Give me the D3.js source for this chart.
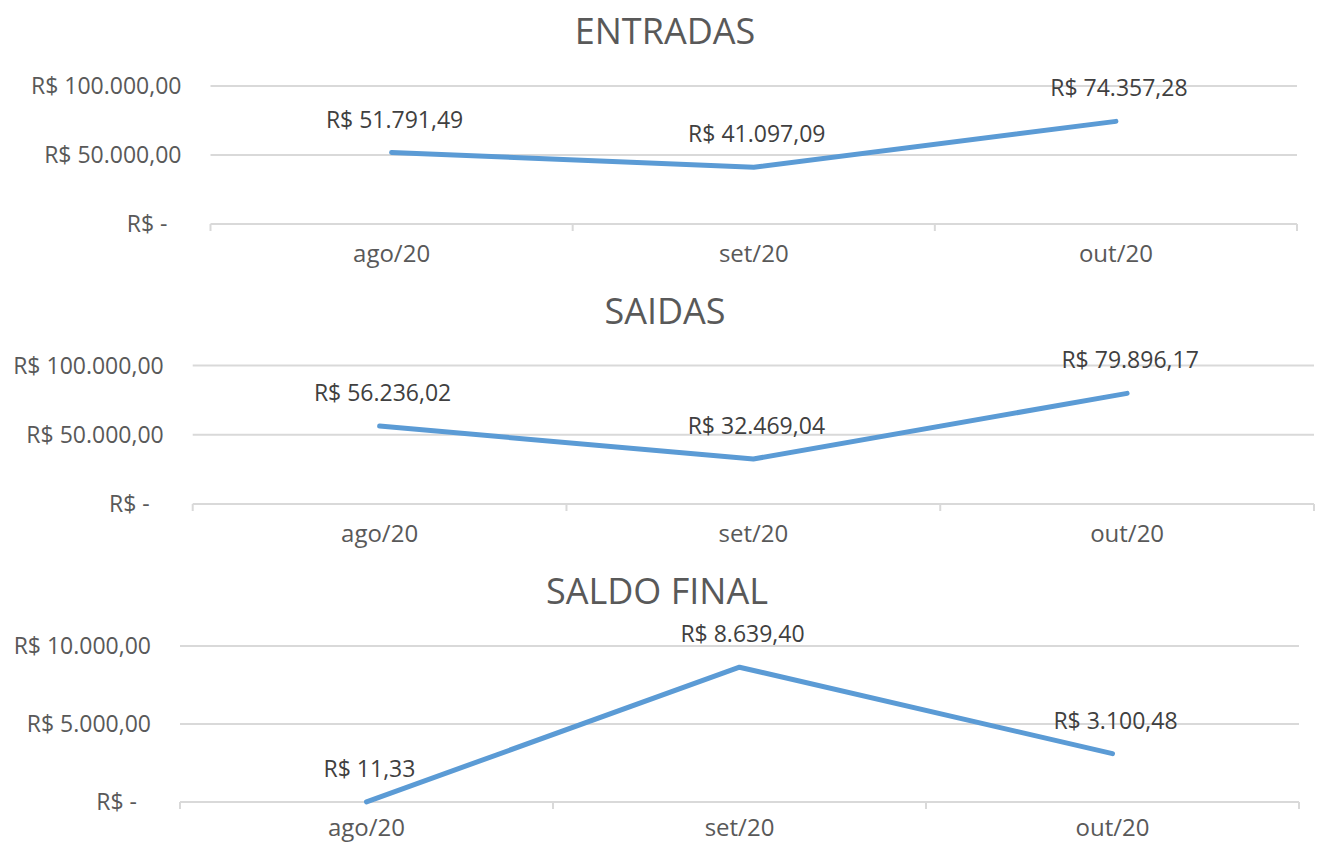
<!DOCTYPE html>
<html>
<head>
<meta charset="utf-8">
<script src="https://cdn.jsdelivr.net/npm/d3@7"></script>
<style>
  html, body { margin: 0; padding: 0; background: #ffffff; }
  svg { display: block; }
  text { font-family: "Open Sans", "Liberation Sans", sans-serif; fill: #595959; }
</style>
</head>
<body>
<svg id="chart" width="1317" height="844"></svg>
<script>
// ---- data ----
const categories = ["ago/20", "set/20", "out/20"];
const entradas = [51791.49, 41097.09, 74357.28];
const saidas = [56236.02, 32469.04, 79896.17];
const saldoFinal = [11.33, 8639.40, 3100.48];
const titles = ["ENTRADAS", "SAIDAS", "SALDO FINAL"];
const ticksLarge = [0, 50000, 100000];
const ticksSmall = [0, 5000, 10000];

// ---- layout (positions / sizes only) ----
const H = 844;
const panels = [
  { title: titles[0], values: entradas,   ticks: ticksLarge, left: 210.5, right: 1297, top: 86,  bottom: 224, titleX: 665 },
  { title: titles[1], values: saidas,     ticks: ticksLarge, left: 192.7, right: 1314, top: 365.5, bottom: 504, titleX: 665 },
  { title: titles[2], values: saldoFinal, ticks: ticksSmall, left: 180,   right: 1299, top: 646, bottom: 802, titleX: 657 }
];

const ptBR = d3.formatLocale({ decimal: ",", thousands: ".", grouping: [3], currency: ["R$ ", ""] });
const money = ptBR.format("$,.2f");
const fmt = v => v === 0 ? "R$ -" : money(v);

const svg = d3.select("#chart");
const gridColor = "#d9d9d9";
const lineColor = "#5b9bd5";

panels.forEach(p => {
  const g = svg.append("g");
  const x = d3.scaleBand().domain(categories).range([p.left, p.right]).paddingInner(0).paddingOuter(0);
  const y = d3.scaleLinear().domain([p.ticks[0], p.ticks[p.ticks.length - 1]]).range([p.bottom, p.top]);

  // title
  g.append("text")
    .attr("x", p.titleX)
    .attr("y", p.top - 42)
    .attr("text-anchor", "middle")
    .style("font-size", "36px")
    .text(p.title);

  // gridlines
  g.selectAll("line.grid").data(p.ticks).join("line")
    .attr("class", "grid")
    .attr("x1", p.left).attr("x2", p.right)
    .attr("y1", d => y(d)).attr("y2", d => y(d))
    .attr("stroke", gridColor).attr("stroke-width", 2);

  // y tick labels
  g.selectAll("text.ytick").data(p.ticks).join("text")
    .attr("class", "ytick")
    .attr("x", d => d === 0 ? p.left - 43 : p.left - 29)
    .attr("y", d => y(d) + 8.2)
    .attr("text-anchor", "end")
    .style("font-size", "23px")
    .text(fmt);

  // category boundary ticks
  const bounds = categories.map(c => x(c)).concat([p.right]);
  g.selectAll("line.xtick").data(bounds).join("line")
    .attr("class", "xtick")
    .attr("x1", d => d).attr("x2", d => d)
    .attr("y1", y(0)).attr("y2", y(0) + 7)
    .attr("stroke", gridColor).attr("stroke-width", 2);

  // x labels (kept inside the picture)
  g.selectAll("text.xlabel").data(categories).join("text")
    .attr("class", "xlabel")
    .attr("x", d => x(d) + x.bandwidth() / 2)
    .attr("y", Math.min(y(0) + 38, H - 8))
    .attr("text-anchor", "middle")
    .style("font-size", "24px")
    .text(d => d);

  // line
  const pts = categories.map((c, i) => ({ c, v: p.values[i] }));
  const line = d3.line().x(d => x(d.c) + x.bandwidth() / 2).y(d => y(d.v));
  g.append("path")
    .datum(pts)
    .attr("d", line)
    .attr("fill", "none")
    .attr("stroke", lineColor)
    .attr("stroke-width", 5)
    .attr("stroke-linecap", "round")
    .attr("stroke-linejoin", "round");

  // data labels
  g.selectAll("text.dlabel").data(pts).join("text")
    .attr("class", "dlabel")
    .attr("x", d => x(d.c) + x.bandwidth() / 2 + 3)
    .attr("y", d => y(d.v) - 25)
    .attr("text-anchor", "middle")
    .style("font-size", "23px")
    .style("fill", "#404040")
    .text(d => money(d.v));
});
</script>
</body>
</html>
